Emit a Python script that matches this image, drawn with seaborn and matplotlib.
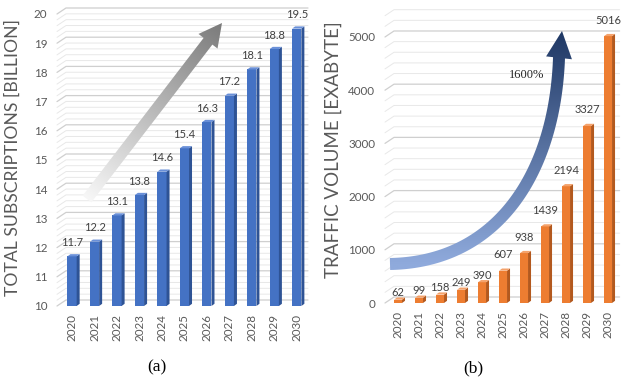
import numpy as np
import pandas as pd
import matplotlib
matplotlib.use("Agg")
import matplotlib.pyplot as plt
import matplotlib.transforms as mtransforms
from matplotlib.patches import Polygon
from matplotlib.colors import to_rgb
import seaborn as sns

# ---- data -----------------------------------------------------------------
years = ["2020", "2021", "2022", "2023", "2024", "2025",
         "2026", "2027", "2028", "2029", "2030"]
subscriptions = [11.7, 12.2, 13.1, 13.8, 14.6, 15.4, 16.3, 17.2, 18.1, 18.8, 19.5]
traffic = [62, 99, 158, 249, 390, 607, 938, 1439, 2194, 3327, 5016]
growth_label = "1600%"

sns.set_theme(style="white")
plt.rcParams["font.family"] = ["Lato", "DejaVu Sans"]

W, H = 621, 382
fig = plt.figure(figsize=(W / 100, H / 100), dpi=100)

TICK_C = "#595959"
LABEL_C = "#404040"


def px_axes(x0, y_bottom, w, h):
    """Axes placed by a pixel box; y_bottom is measured from the top edge."""
    return fig.add_axes([x0 / W, (H - y_bottom) / H, w / W, h / H])


def fake_3d_chart(ax, values, front, side, top, width, ylim, xlim,
                  major, minor, fmt, label_offsets):
    df = pd.DataFrame({"year": years, "value": values})
    sns.barplot(data=df, x="year", y="value", color=front, saturation=1,
                width=width, ax=ax, zorder=3, edgecolor="none")
    ax.set_ylim(*ylim)
    ax.set_xlim(*xlim)
    bb = ax.get_position()
    ax_w_px, ax_h_px = bb.width * W, bb.height * H
    ppx = ax_w_px / (xlim[1] - xlim[0])
    ppy = ax_h_px / (ylim[1] - ylim[0])

    # wall gridlines with a short perspective slant on the side wall
    slant_dx, slant_dy = 9 / ax_w_px, 6 / ppy
    blend = mtransforms.blended_transform_factory(ax.transAxes, ax.transData)
    n_minor = int(round((ylim[1] - ylim[0]) / minor))
    for i in range(n_minor + 1):
        v = ylim[0] + i * minor
        k = (v - ylim[0]) / major
        is_major = abs(k - round(k)) < 1e-6
        ax.plot([0, slant_dx, 1], [v, v + slant_dy, v + slant_dy],
                transform=blend, clip_on=False, zorder=1,
                color="#cfcfcf" if is_major else "#e8e8e8",
                lw=0.9 if is_major else 0.7)

    # side and top faces of each column
    dx, dy = 3.0 / ppx, 2.2 / ppy
    for p, val in zip(ax.patches, values):
        x0 = p.get_x()
        x1 = x0 + p.get_width()
        y0 = max(p.get_y(), ylim[0])
        y1 = p.get_y() + p.get_height()
        ax.add_patch(Polygon([(x1, y0), (x1 + dx, y0 + dy), (x1 + dx, y1 + dy), (x1, y1)],
                             closed=True, facecolor=side, edgecolor="none", zorder=3))
        ax.add_patch(Polygon([(x0, y1), (x0 + dx, y1 + dy), (x1 + dx, y1 + dy), (x1, y1)],
                             closed=True, facecolor=top, edgecolor="none", zorder=3))
        ax.annotate(fmt(val), (p.get_x() + p.get_width() / 2, y1),
                    xytext=(0, label_offsets(val)), textcoords="offset pixels",
                    ha="center", va="center", fontsize=8.0, color=LABEL_C, zorder=5)

    ticks = np.arange(ylim[0], ylim[1] + 1e-9, major)
    ax.set_yticks(ticks)
    ax.set_yticklabels([f"{t:g}" for t in ticks])
    ax.tick_params(axis="y", length=0, pad=7, labelsize=8.4, labelcolor=TICK_C)
    ax.tick_params(axis="x", length=0, pad=6, labelsize=8.4, labelcolor=TICK_C,
                   labelrotation=90)
    ax.set_xlabel("")
    ax.set_ylabel("")
    ax.grid(False)
    for s in ax.spines.values():
        s.set_visible(False)
    ax.patch.set_alpha(0)


def side_title(text, xc, yc, length_px):
    """Vertical axis title centred at a pixel position, sized to a given length."""
    t = fig.text(xc / W, 1 - yc / H, text, rotation=90, ha="center", va="center",
                 fontsize=12, color=TICK_C)
    r = fig.canvas.get_renderer()
    h = t.get_window_extent(r).height
    t.set_fontsize(12 * length_px / h)
    return t


# (a) subscriptions
ax1 = px_axes(57, 306, 251, 292)
fake_3d_chart(ax1, subscriptions, "#4472C4", "#2E5395", "#6A90D8", 0.41,
              (10, 20), (-0.67, 10.5), 1, 0.2, lambda v: f"{v:.1f}",
              lambda v: 14)
side_title("TOTAL SUBSCRIPTIONS [BILLION]", 13, 157, 274)

# (b) traffic
ax2 = px_axes(385, 303, 234.6, 287.3)
fake_3d_chart(ax2, traffic, "#ED7D31", "#B3591E", "#F4A26B", 0.38,
              (0, 5400), (-0.62, 10.55), 1000, 200, lambda v: f"{int(v)}",
              lambda v: 16 if v > 500 else 7)
side_title("TRAFFIC VOLUME [EXABYTE]", 333, 150, 255)

# ---- decorative gradient arrows (overlay in pixel coordinates) ---------------
ov = fig.add_axes([0, 0, 1, 1])
ov.set_xlim(0, W)
ov.set_ylim(H, 0)
ov.axis("off")
ov.patch.set_alpha(0)


def gradient_fill(poly, c0, c1, p0, p1):
    patch = Polygon(poly, closed=True, facecolor="none", edgecolor="none")
    ov.add_patch(patch)
    xmin, ymin = poly.min(axis=0) - 2
    xmax, ymax = poly.max(axis=0) + 2
    xs = np.linspace(xmin, xmax, 300)
    ys = np.linspace(ymin, ymax, 300)
    X, Y = np.meshgrid(xs, ys)
    d = np.array(p1, float) - np.array(p0, float)
    t = ((X - p0[0]) * d[0] + (Y - p0[1]) * d[1]) / (d @ d)
    t = np.clip(t, 0, 1)[..., None]
    img = (1 - t) * np.array(to_rgb(c0)) + t * np.array(to_rgb(c1))
    im = ov.imshow(img, extent=(xmin, xmax, ymin, ymax), origin="lower",
                   aspect="auto", interpolation="bilinear", zorder=6)
    im.set_clip_path(patch)
    ov.set_xlim(0, W)
    ov.set_ylim(H, 0)


def arrow_poly(center, shaft_w, head_w, head_len):
    """Outline of an arrow following a centerline that ends at the tip."""
    center = np.asarray(center, float)
    tip = center[-1]
    seg = np.sqrt((np.diff(center, axis=0) ** 2).sum(axis=1))
    cum = np.concatenate([[0], np.cumsum(seg)])
    base_s = cum[-1] - head_len
    keep = cum <= base_s
    base = np.array([np.interp(base_s, cum, center[:, 0]),
                     np.interp(base_s, cum, center[:, 1])])
    line = np.vstack([center[keep], base])
    tang = np.gradient(line, axis=0)
    tang /= np.linalg.norm(tang, axis=1)[:, None]
    nrm = np.column_stack([-tang[:, 1], tang[:, 0]])
    left = line + nrm * shaft_w / 2
    right = line - nrm * shaft_w / 2
    hd = (tip - base) / np.linalg.norm(tip - base)
    hn = np.array([-hd[1], hd[0]])
    head = [base + hn * head_w / 2, tip, base - hn * head_w / 2]
    return np.vstack([left, head, right[::-1]])


# straight growth arrow in panel (a)
tail, tip = np.array([87.0, 199.0]), np.array([222.0, 23.0])
straight = np.linspace(tail, tip, 50)
gradient_fill(arrow_poly(straight, 11, 24, 23), "#f7f7f7", "#7a7a7a", tail, tip)

# curved growth arrow in panel (b)
P0, P1, P2, P3 = map(np.array, [(390, 264), (500, 262), (555, 170), (559, 58)])
tt = np.linspace(0, 1, 120)[:, None]
curve = ((1 - tt) ** 3) * P0 + 3 * ((1 - tt) ** 2) * tt * P1 \
    + 3 * (1 - tt) * tt ** 2 * P2 + tt ** 3 * P3
tip_b = np.array([562.0, 31.0])
curve = np.vstack([curve, tip_b])
gradient_fill(arrow_poly(curve, 12, 26, 27), "#8FAADC", "#1F3864",
              (470, 264), (470, 31))
ov.text(527, 75, growth_label, ha="center", va="center", fontsize=9,
        family="Liberation Serif", color="#262626", zorder=7)

# panel captions
fig.text(157 / W, 1 - 367 / H, "(a)", ha="center", va="center", fontsize=12.5,
         family="Liberation Serif", color="black")
fig.text(473 / W, 1 - 368 / H, "(b)", ha="center", va="center", fontsize=12.5,
         family="Liberation Serif", color="black")

fig.savefig("out.png", dpi=100)
